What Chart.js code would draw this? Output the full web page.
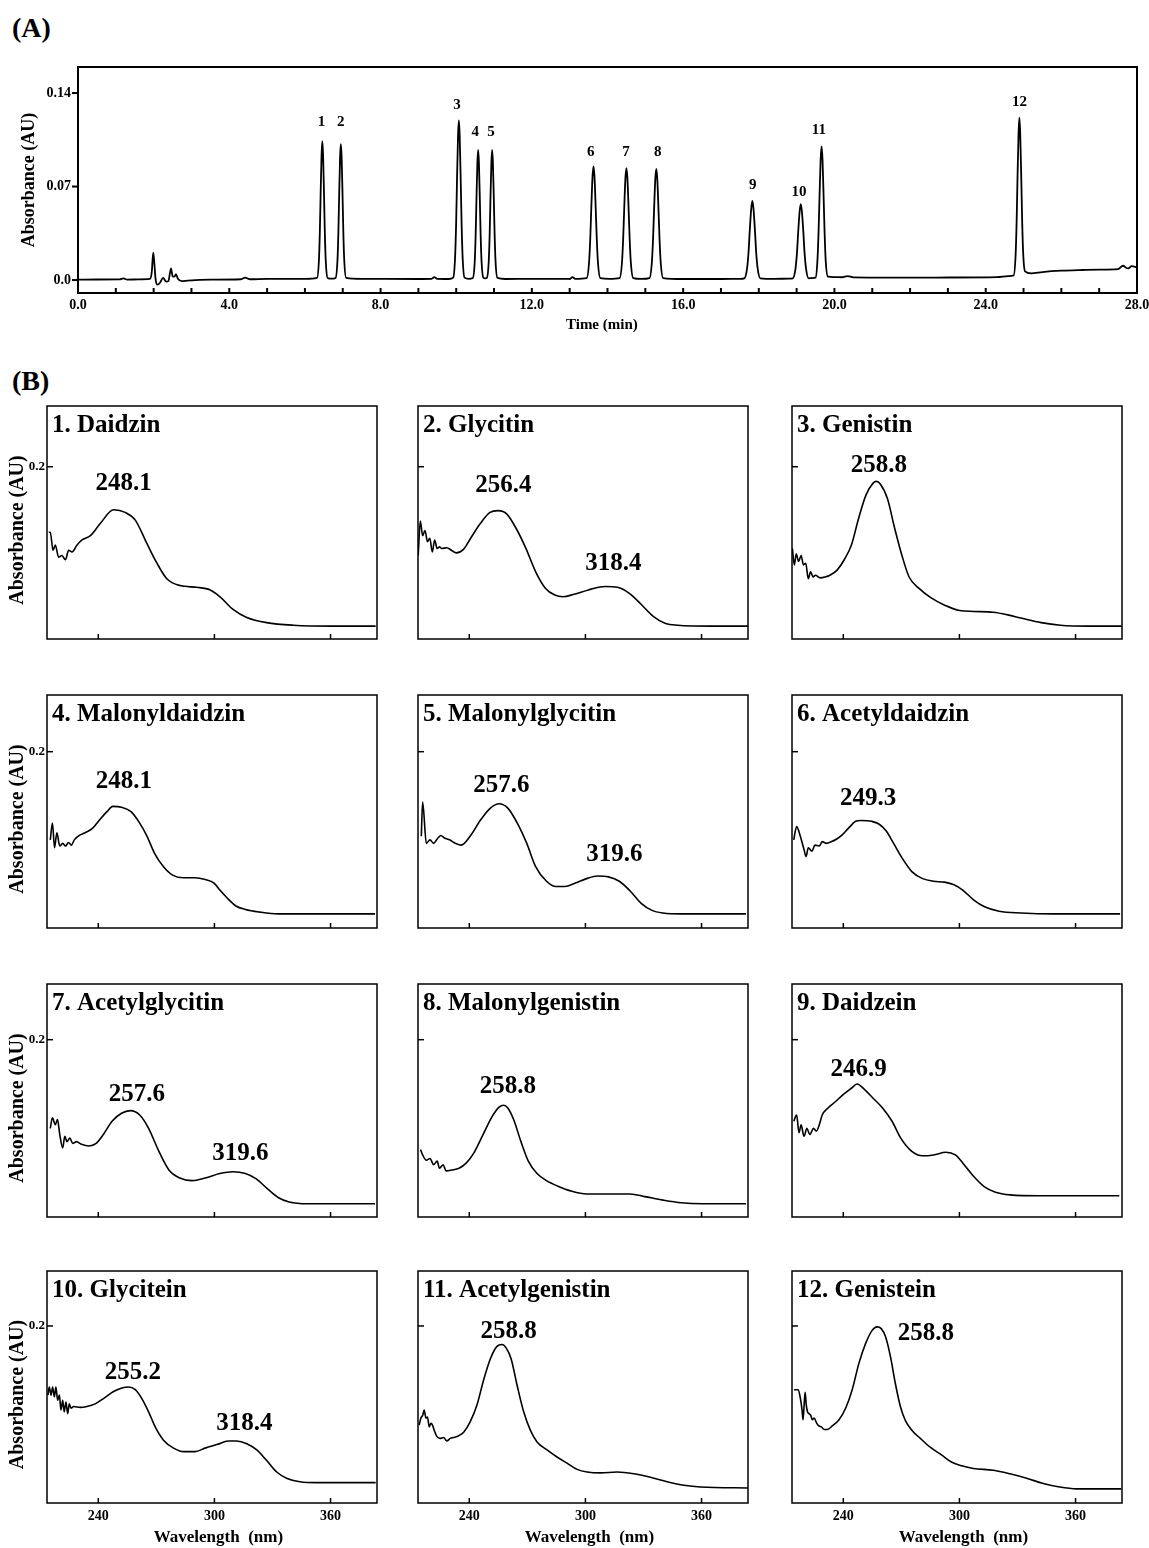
<!DOCTYPE html>
<html>
<head>
<meta charset="utf-8">
<script src="https://cdn.jsdelivr.net/npm/chart.js@4.4.1/dist/chart.umd.min.js"></script>
<style>
  body { margin: 0; background: #fff; }
  #page { position: relative; width: 1149px; height: 1548px; overflow: hidden; background: #fff; }
  canvas { position: absolute; }
  .tag { position: absolute; font: bold 28px "Liberation Serif", "Times New Roman", serif; line-height: 28px; color: #000; }
</style>
</head>
<body>
<div id="page">
  <div class="tag" style="left:12px;top:14px">(A)</div>
  <div class="tag" style="left:12px;top:367px">(B)</div>
  <canvas id="chrom" width="1149" height="300" style="left:0;top:50px"></canvas>
</div>
<script>

// ---------- (A) chromatogram: [time (min), absorbance (AU)] ----------
var chromTrace = [
  [0, 0.0003], [0.5, 0.0004], [1.1, 0.0005], [1.2, 0.0012], [1.3, 0.0003], [1.6, 0.0005], [1.9, 0.0008],
  [1.95, 0.006], [1.99, 0.0205], [2.02, 0.012], [2.05, 0.001], [2.1, -0.0035], [2.17, -0.002], [2.25, 0.0016],
  [2.33, -0.0012], [2.39, -0.0008], [2.43, 0.005], [2.46, 0.0088], [2.5, 0.003], [2.55, 0.0025], [2.59, 0.0045],
  [2.64, 0.001], [2.75, -0.0008], [2.9, -0.0004], [3.5, 0.0003], [4.3, 0.0006], [4.42, 0.0018], [4.55, 0.0006],
  [5.0, 0.0009], [6.0, 0.0009],
  [6.32, 0.0016], [6.37, 0.0148], [6.395, 0.037], [6.415, 0.064], [6.44, 0.094], [6.46, 0.104],
  [6.48, 0.094], [6.505, 0.064], [6.525, 0.037], [6.55, 0.0148], [6.6, 0.0016],
  [6.7, 0.001],
  [6.81, 0.0016], [6.86, 0.0146], [6.885, 0.0364], [6.905, 0.063], [6.93, 0.0924], [6.95, 0.1018],
  [6.97, 0.0924], [6.995, 0.063], [7.015, 0.0364], [7.04, 0.0146], [7.09, 0.0016],
  [7.5, 0.0009], [9.0, 0.0008], [9.35, 0.0009], [9.42, 0.0022], [9.5, 0.0009], [9.8, 0.0008],
  [9.92, 0.0018], [9.97, 0.0169], [9.998, 0.0425], [10.02, 0.0734], [10.048, 0.1079], [10.07, 0.1195],
  [10.092, 0.1079], [10.12, 0.0734], [10.142, 0.0425], [10.17, 0.0169], [10.22, 0.0018],
  [10.33, 0.0009],
  [10.44, 0.0016], [10.49, 0.0139], [10.515, 0.0348], [10.535, 0.06], [10.56, 0.0881], [10.58, 0.0975],
  [10.6, 0.0881], [10.625, 0.06], [10.645, 0.0348], [10.67, 0.0139], [10.72, 0.0016],
  [10.765, 0.0012],
  [10.81, 0.0016], [10.86, 0.0139], [10.885, 0.0348], [10.905, 0.06], [10.93, 0.0881], [10.95, 0.0975],
  [10.97, 0.0881], [10.995, 0.06], [11.015, 0.0348], [11.04, 0.0139], [11.09, 0.0016],
  [11.3, 0.0008], [12.0, 0.0009], [13.0, 0.0008], [13.07, 0.0022], [13.15, 0.0009],
  [13.45, 0.0015], [13.51, 0.0122], [13.543, 0.0304], [13.57, 0.0524], [13.603, 0.077], [13.63, 0.085],
  [13.657, 0.077], [13.69, 0.0524], [13.717, 0.0304], [13.75, 0.0122], [13.81, 0.0015],
  [14.05, 0.0009],
  [14.32, 0.0015], [14.38, 0.012], [14.413, 0.03], [14.44, 0.0517], [14.473, 0.0759], [14.5, 0.0838],
  [14.527, 0.0759], [14.56, 0.0517], [14.587, 0.03], [14.62, 0.012], [14.68, 0.0015],
  [14.9, 0.0009],
  [15.11, 0.0015], [15.17, 0.012], [15.203, 0.0298], [15.23, 0.0514], [15.263, 0.0754], [15.29, 0.0833],
  [15.317, 0.0754], [15.35, 0.0514], [15.377, 0.0298], [15.41, 0.012], [15.47, 0.0015],
  [16.0, 0.0008], [17.0, 0.0008], [17.5, 0.0009],
  [17.62, 0.0013], [17.69, 0.0087], [17.73, 0.0212], [17.76, 0.0364], [17.8, 0.0534], [17.83, 0.0592],
  [17.86, 0.0534], [17.9, 0.0364], [17.93, 0.0212], [17.97, 0.0087], [18.04, 0.0013],
  [18.4, 0.0009], [18.8, 0.001],
  [18.9, 0.0013], [18.97, 0.0084], [19.01, 0.0205], [19.04, 0.035], [19.08, 0.0513], [19.11, 0.0569],
  [19.14, 0.0513], [19.18, 0.035], [19.21, 0.0205], [19.25, 0.0084], [19.32, 0.0013],
  [19.4, 0.0015],
  [19.5, 0.0018], [19.55, 0.0142], [19.58, 0.0356], [19.605, 0.0614], [19.635, 0.0902], [19.66, 0.1],
  [19.685, 0.0902], [19.715, 0.0614], [19.74, 0.0356], [19.77, 0.0142], [19.83, 0.0025],
  [20.0, 0.0022], [20.2, 0.0021], [20.35, 0.003], [20.5, 0.002], [21.5, 0.0018], [23.0, 0.0019],
  [24.3, 0.0022], [24.6, 0.003],
  [24.74, 0.0035], [24.79, 0.0185], [24.818, 0.0445], [24.84, 0.0755], [24.868, 0.1095], [24.89, 0.1215],
  [24.912, 0.1098], [24.94, 0.0765], [24.962, 0.0465], [24.99, 0.0205], [25.04, 0.0065],
  [25.2, 0.005], [25.5, 0.006], [26.0, 0.007], [26.5, 0.0075], [27.0, 0.0078], [27.5, 0.0082],
  [27.63, 0.0107], [27.72, 0.009], [27.77, 0.0088], [27.86, 0.0104], [28, 0.0095]
]

var peakNumbers = ['1', '2', '3', '4', '5', '6', '7', '8', '9', '10', '11', '12']
var peakLabelTimes = [6.44, 6.95, 10.02, 10.5, 10.92, 13.56, 14.49, 15.33, 17.84, 19.06, 19.59, 24.89]
var peakLabelLevels = [0.1185, 0.1185, 0.131, 0.111, 0.111, 0.096, 0.096, 0.096, 0.0711, 0.0661, 0.1123, 0.1335]

var timeTicks = [0, 4, 8, 12, 16, 20, 24, 28]
var timeTickLabels = ['0.0', '4.0', '8.0', '12.0', '16.0', '20.0', '24.0', '28.0']
var absTicksA = [0, 0.07, 0.14]
var absTickLabelsA = ['0.0', '0.07', '0.14']

// ---------- (B) UV spectra: [wavelength (nm), absorbance (AU)] ----------
var compounds = ['1. Daidzin', '2. Glycitin', '3. Genistin', '4. Malonyldaidzin', '5. Malonylglycitin',
  '6. Acetyldaidzin', '7. Acetylglycitin', '8. Malonylgenistin', '9. Daidzein', '10. Glycitein',
  '11. Acetylgenistin', '12. Genistein']

var daidzin = [[214.4,0.124],[215.2,0.124],[216.6,0.103],[217.8,0.109],[219.5,0.095],[221.2,0.097],[223.0,0.092],
  [224.7,0.103],[226.4,0.101],[229.0,0.109],[231.6,0.115],[235.9,0.120],[241.0,0.134],[247.9,0.150],[253.9,0.147],
  [259.1,0.138],[265.1,0.111],[270.3,0.088],[275.4,0.070],[282.3,0.062],[290.9,0.060],[297.8,0.057],[302.9,0.049],
  [309.8,0.034],[316.7,0.025],[327.0,0.019],[340.8,0.016],[361.4,0.015],[383.3,0.015]]
var glycitin = [[213.6,0.097],[214.7,0.137],[215.9,0.120],[217.1,0.126],[218.4,0.113],[219.6,0.117],[220.9,0.101],
  [222.1,0.115],[223.4,0.105],[224.6,0.107],[225.8,0.105],[228.3,0.106],[230.8,0.103],[233.3,0.100],[237.0,0.104],
  [240.7,0.117],[245.7,0.134],[250.7,0.147],[254.9,0.149],[259.4,0.145],[264.3,0.128],[269.3,0.105],[274.3,0.078],
  [279.3,0.059],[284.2,0.051],[288.4,0.049],[294.2,0.052],[301.6,0.057],[310.3,0.061],[316.5,0.060],[322.7,0.053],
  [328.9,0.040],[335.2,0.026],[341.4,0.018],[347.6,0.016],[365.0,0.015],[384.0,0.015]]
var genistin = [[213.7,0.105],[214.7,0.086],[215.7,0.099],[216.9,0.090],[218.2,0.097],[219.4,0.086],[220.6,0.088],
  [221.9,0.070],[223.1,0.078],[224.4,0.072],[225.6,0.074],[228.1,0.071],[230.6,0.072],[233.1,0.074],[236.8,0.080],
  [240.5,0.092],[244.2,0.109],[247.9,0.140],[251.7,0.167],[255.4,0.181],[257.1,0.183],[259.1,0.180],[262.8,0.163],
  [266.6,0.128],[270.3,0.097],[274.0,0.072],[279.0,0.059],[285.2,0.048],[292.6,0.039],[300.0,0.033],[307.5,0.032],
  [317.4,0.031],[324.9,0.028],[332.3,0.024],[342.2,0.019],[352.2,0.016],[367.0,0.015],[383.9,0.015]]
var malonyldaidzin = [[215.2,0.100],[216.3,0.119],[217.4,0.091],[218.6,0.108],[220.1,0.093],[221.6,0.096],
  [223.1,0.093],[224.6,0.097],[226.1,0.094],[227.6,0.100],[229.5,0.104],[233.2,0.108],[237.0,0.113],[240.8,0.123],
  [244.5,0.132],[247.5,0.138],[252.0,0.137],[256.9,0.132],[261.4,0.119],[265.2,0.104],[269.0,0.085],[273.5,0.070],
  [278.4,0.060],[284.0,0.057],[289.7,0.057],[295.3,0.055],[299.8,0.051],[302.8,0.043],[306.6,0.034],[311.1,0.025],
  [316.0,0.021],[323.5,0.018],[332.9,0.016],[348.0,0.016],[383.0,0.016]]
var malonylglycitin = [[215.2,0.104],[215.9,0.143],[217.8,0.096],[219.7,0.100],[221.6,0.096],[223.4,0.101],
  [225.3,0.105],[227.2,0.102],[229.8,0.100],[232.9,0.096],[235.9,0.094],[240.4,0.104],[246.0,0.123],[250.9,0.136],
  [255.4,0.141],[259.9,0.136],[264.8,0.119],[269.7,0.096],[274.2,0.070],[279.9,0.053],[284.8,0.047],[289.3,0.047],
  [294.9,0.051],[300.6,0.056],[306.2,0.059],[311.9,0.058],[317.5,0.053],[323.1,0.042],[328.8,0.028],[334.4,0.020],
  [340.1,0.017],[349.5,0.016],[383.0,0.016]]
var acetyldaidzin = [[214.4,0.100],[215.9,0.115],[217.8,0.104],[219.7,0.089],[220.8,0.081],[221.9,0.091],
  [223.8,0.087],[225.3,0.094],[227.6,0.093],[229.1,0.098],[231.3,0.096],[234.0,0.098],[236.6,0.101],[239.6,0.106],
  [242.6,0.113],[246.4,0.121],[249.0,0.122],[254.7,0.121],[258.4,0.118],[262.2,0.110],[266.0,0.096],[270.5,0.079],
  [275.4,0.064],[281.0,0.056],[286.7,0.053],[292.3,0.052],[297.2,0.049],[301.7,0.043],[307.3,0.032],[313.0,0.024],
  [320.5,0.019],[331.8,0.017],[348.7,0.016],[383.0,0.016]]
var acetylglycitin = [[215.2,0.100],[216.3,0.112],[217.8,0.104],[218.9,0.110],[220.1,0.093],[221.6,0.078],
  [222.7,0.091],[223.8,0.085],[225.3,0.089],[226.8,0.083],[228.7,0.085],[231.3,0.082],[235.1,0.080],[238.9,0.083],
  [242.6,0.093],[247.1,0.108],[252.0,0.117],[256.6,0.120],[261.4,0.115],[266.0,0.100],[270.9,0.076],[276.5,0.053],
  [282.1,0.044],[288.5,0.041],[295.3,0.044],[302.8,0.049],[309.6,0.051],[316.0,0.049],[321.6,0.043],[327.3,0.032],
  [332.9,0.022],[338.6,0.017],[348.0,0.015],[383.0,0.015]]
var malonylgenistin = [[214.8,0.076],[215.9,0.070],[217.8,0.064],[219.7,0.066],[221.6,0.059],[223.4,0.063],
  [224.6,0.055],[226.5,0.059],[228.0,0.052],[231.0,0.053],[234.7,0.055],[238.5,0.061],[242.3,0.072],[247.1,0.093],
  [251.7,0.113],[255.4,0.124],[257.7,0.126],[259.9,0.123],[262.9,0.110],[266.7,0.085],[270.5,0.063],[275.0,0.049],
  [279.9,0.041],[285.5,0.035],[293.0,0.029],[300.6,0.026],[311.9,0.026],[323.1,0.026],[330.7,0.023],[340.1,0.019],
  [349.5,0.016],[360.8,0.015],[383.0,0.015]]
var daidzein = [[214.4,0.108],[215.9,0.115],[217.1,0.095],[218.2,0.104],[219.7,0.091],[221.2,0.100],[222.7,0.093],
  [224.6,0.100],[226.1,0.097],[227.6,0.104],[229.1,0.115],[232.1,0.123],[235.9,0.130],[240.4,0.139],[244.1,0.145],
  [247.1,0.150],[250.9,0.144],[255.4,0.134],[260.3,0.123],[265.2,0.108],[269.7,0.089],[275.4,0.074],[281.0,0.069],
  [286.7,0.070],[293.0,0.073],[297.9,0.070],[301.7,0.061],[307.3,0.046],[313.0,0.034],[318.6,0.028],[326.2,0.025],
  [341.2,0.024],[382.6,0.024]]
var glycitein = [[214.0,0.122],[214.7,0.131],[215.6,0.122],[216.4,0.131],[217.3,0.120],[218.1,0.131],[219.0,0.116],
  [219.9,0.122],[220.7,0.105],[221.6,0.116],[222.4,0.103],[223.3,0.114],[224.2,0.101],[225.0,0.112],[225.9,0.107],
  [227.3,0.109],[230.7,0.108],[234.1,0.109],[238.4,0.112],[242.7,0.118],[247.9,0.126],[252.2,0.130],[255.6,0.131],
  [259.1,0.128],[262.5,0.118],[266.0,0.103],[269.4,0.086],[273.7,0.071],[278.9,0.062],[284.0,0.058],[290.0,0.058],
  [295.2,0.062],[301.2,0.066],[307.2,0.070],[311.5,0.070],[316.7,0.067],[321.9,0.060],[327.0,0.048],[332.2,0.035],
  [337.3,0.028],[344.2,0.024],[352.8,0.023],[383.3,0.023]]
var acetylgenistin = [[214.1,0.088],[215.0,0.096],[215.9,0.099],[216.7,0.105],[217.6,0.096],[218.4,0.097],
  [219.3,0.086],[220.2,0.090],[221.0,0.088],[221.9,0.082],[223.3,0.075],[225.0,0.073],[226.7,0.074],[228.4,0.070],
  [230.2,0.073],[231.9,0.074],[234.5,0.076],[237.1,0.080],[240.5,0.092],[244.0,0.111],[247.4,0.139],[250.9,0.163],
  [254.3,0.177],[256.9,0.179],[259.1,0.175],[261.6,0.163],[264.7,0.133],[268.1,0.103],[271.6,0.082],[275.0,0.069],
  [280.2,0.060],[285.3,0.052],[290.5,0.045],[295.7,0.038],[300.9,0.035],[307.8,0.034],[316.4,0.035],[325.0,0.033],
  [333.6,0.029],[342.2,0.024],[350.9,0.020],[359.5,0.018],[384.0,0.017]]
var genistein = [[214.6,0.128],[215.6,0.128],[216.7,0.128],[217.7,0.120],[218.7,0.105],[219.2,0.094],[219.8,0.112],
  [220.3,0.125],[220.8,0.112],[221.5,0.103],[222.3,0.101],[223.2,0.099],[224.0,0.094],[224.9,0.096],[226.3,0.090],
  [227.5,0.087],[228.7,0.086],[230.1,0.083],[231.8,0.083],[234.3,0.087],[237.8,0.094],[241.2,0.107],[244.6,0.128],
  [248.1,0.158],[251.5,0.180],[254.9,0.195],[257.5,0.199],[259.6,0.197],[261.8,0.188],[264.4,0.165],[266.9,0.135],
  [269.5,0.109],[272.1,0.093],[275.5,0.082],[279.8,0.073],[284.9,0.063],[290.9,0.054],[296.1,0.046],[301.2,0.042],
  [307.2,0.039],[317.5,0.037],[326.1,0.033],[334.7,0.028],[343.3,0.022],[351.8,0.018],[360.4,0.016],[383.6,0.016]]

var spectra = [daidzin, glycitin, genistin, malonyldaidzin, malonylglycitin, acetyldaidzin,
  acetylglycitin, malonylgenistin, daidzein, glycitein, acetylgenistin, genistein]

// lambda max labels and where they sit (nm, AU)
var maximaText = [['248.1'], ['256.4', '318.4'], ['258.8'], ['248.1'], ['257.6', '319.6'], ['249.3'],
  ['257.6', '319.6'], ['258.8'], ['246.9'], ['255.2', '318.4'], ['258.8'], ['258.8']]
var maximaAt = [[[253.1, 0.180]], [[257.6, 0.178], [314.5, 0.088]], [[258.4, 0.201]], [[253.2, 0.166]],
  [[256.6, 0.162], [314.9, 0.083]], [[252.8, 0.147]], [[259.9, 0.138], [313.4, 0.072]], [[259.9, 0.147]],
  [[247.9, 0.166]], [[257.9, 0.147], [315.5, 0.090]], [[260.3, 0.194]], [[282.7, 0.192]]]

var wlTicks = [240, 300, 360]
var wlTickLabels = ['240', '300', '360']
var absTicksB = [0.2]
var absTickLabelsB = ['0.2']


Chart.defaults.font.family = '"Liberation Serif", "Times New Roman", serif'
Chart.defaults.font.weight = 'bold'
Chart.defaults.color = '#000'

var serif = '"Liberation Serif", "Times New Roman", serif'
var nb = '\u00a0'

// box round the plot, tick marks and the texts inside the plot
function makeFrame(o) {
  return {
    id: 'frame',
    afterDraw: function (chart) {
      var ctx = chart.ctx
      var a = chart.chartArea
      var xs = chart.scales.x
      var ys = chart.scales.y
      ctx.save()
      ctx.strokeStyle = '#000'
      ctx.lineWidth = o.lw
      ctx.strokeRect(a.left, a.top, a.right - a.left, a.bottom - a.top)
      xs.ticks.forEach(function (t) {
        var px = xs.getPixelForValue(t.value)
        ctx.beginPath()
        ctx.moveTo(px, a.bottom)
        ctx.lineTo(px, a.bottom - o.xIn)
        ctx.stroke()
      })
      ys.ticks.forEach(function (t) {
        var py = ys.getPixelForValue(t.value)
        ctx.beginPath()
        ctx.moveTo(a.left - o.yOut, py)
        ctx.lineTo(a.left + o.yIn, py)
        ctx.stroke()
      })
      ctx.fillStyle = '#000'
      ctx.font = o.font
      ctx.textAlign = 'center'
      ctx.textBaseline = 'middle'
      o.notes.forEach(function (n) {
        ctx.fillText(n[0], xs.getPixelForValue(n[1]), ys.getPixelForValue(n[2]))
      })
      if (o.title) {
        ctx.textAlign = 'left'
        ctx.fillText(o.title, a.left + 5, a.top + 20)
      }
      ctx.restore()
    }
  }
}

// ---------- chart A ----------
new Chart(document.getElementById('chrom'), {
  type: 'line',
  data: {
    datasets: [{
      data: chromTrace,
      borderColor: '#000',
      borderWidth: 1.8,
      pointRadius: 0,
      cubicInterpolationMode: 'monotone'
    }]
  },
  options: {
    responsive: false,
    animation: false,
    events: [],
    layout: { padding: { left: 0, top: 17, right: 12, bottom: 0 } },
    plugins: { legend: { display: false }, tooltip: { enabled: false } },
    scales: {
      x: {
        type: 'linear', min: 0, max: 28,
        grid: { display: false, drawTicks: false },
        border: { display: false },
        afterBuildTicks: function (s) {
          var t = []
          for (var m = 0; m <= 28; m++) t.push({ value: m })
          s.ticks = t
        },
        afterFit: function (s) { s.height = 57; s.paddingLeft = 0; s.paddingRight = 0 },
        ticks: {
          autoSkip: false, maxRotation: 0, padding: 4,
          font: { size: 14, weight: 'bold' },
          callback: function (v) {
            var k = timeTicks.indexOf(v)
            return k < 0 ? '' : timeTickLabels[k]
          }
        },
        title: { display: true, text: 'Time (min)' + nb + nb + nb, font: { size: 15, weight: 'bold' }, padding: { top: 0, bottom: 16 } }
      },
      y: {
        min: -0.0097, max: 0.1595,
        grid: { display: false, drawTicks: false },
        border: { display: false },
        afterBuildTicks: function (s) { s.ticks = absTicksA.map(function (v) { return { value: v } }) },
        afterFit: function (s) { s.width = 78; s.paddingTop = 0; s.paddingBottom = 0 },
        ticks: {
          padding: 7,
          font: { size: 14, weight: 'bold' },
          callback: function (v, i) { return absTickLabelsA[i] }
        },
        title: { display: true, text: 'Absorbance (AU)', font: { size: 18, weight: 'bold' }, padding: { top: 19, bottom: 0 } }
      }
    }
  },
  plugins: [makeFrame({
    lw: 2, xIn: 5, yIn: 0, yOut: 6,
    font: 'bold 15px ' + serif,
    notes: peakNumbers.map(function (s, i) { return [s, peakLabelTimes[i], peakLabelLevels[i]] })
  })]
})

// ---------- charts B ----------
var rowTop = [406, 695, 984, 1271]
var rowHeight = [233, 233, 233, 232]
var colLeft = [47, 418, 792]
var panelWidth = 330
var absMaxByRow = [0.2705, 0.2643, 0.2628, 0.2621]

var page = document.getElementById('page')

spectra.forEach(function (trace, i) {
  var r = Math.floor(i / 3)
  var c = i % 3
  var cv = document.createElement('canvas')
  cv.width = 47 + panelWidth + 10
  cv.height = 12 + rowHeight[r] + 46
  cv.style.left = (colLeft[c] - 47) + 'px'
  cv.style.top = (rowTop[r] - 12) + 'px'
  page.appendChild(cv)

  var notes = maximaText[i].map(function (s, j) { return [s, maximaAt[i][j][0], maximaAt[i][j][1]] })

  new Chart(cv, {
    type: 'line',
    data: {
      datasets: [{
        data: trace,
        borderColor: '#000',
        borderWidth: 1.6,
        pointRadius: 0,
        cubicInterpolationMode: 'monotone'
      }]
    },
    options: {
      responsive: false,
      animation: false,
      events: [],
      layout: { padding: { left: 0, top: 12, right: 10, bottom: 0 } },
      plugins: { legend: { display: false }, tooltip: { enabled: false } },
      scales: {
        x: {
          type: 'linear', min: 213.5, max: 384,
          grid: { display: false, drawTicks: false },
          border: { display: false },
          afterBuildTicks: function (s) { s.ticks = wlTicks.map(function (v) { return { value: v } }) },
          afterFit: function (s) { s.height = 46; s.paddingLeft = 0; s.paddingRight = 0 },
          ticks: {
            display: r === 3, autoSkip: false, maxRotation: 0, padding: 5,
            font: { size: 14, weight: 'bold' },
            callback: function (v, k) { return wlTickLabels[k] }
          },
          title: { display: r === 3, text: nb + nb + nb + 'Wavelength' + nb + ' (nm)', font: { size: 17, weight: 'bold' }, padding: { top: 0, bottom: 1 } }
        },
        y: {
          min: 0, max: absMaxByRow[r],
          grid: { display: false, drawTicks: false },
          border: { display: false },
          afterBuildTicks: function (s) { s.ticks = absTicksB.map(function (v) { return { value: v } }) },
          afterFit: function (s) { s.width = 47; s.paddingTop = 0; s.paddingBottom = 0 },
          ticks: {
            display: c === 0, padding: 2,
            font: { size: 13, weight: 'bold' },
            callback: function (v, k) { return absTickLabelsB[k] }
          },
          title: { display: c === 0, text: 'Absorbance (AU)' + nb + nb + nb, font: { size: 20, weight: 'bold' }, padding: { top: 6, bottom: 0 } }
        }
      }
    },
    plugins: [makeFrame({
      lw: 1.5, xIn: 5, yIn: 6, yOut: 0,
      font: 'bold 25px ' + serif,
      notes: notes,
      title: compounds[i]
    })]
  })
})
</script>
</body>
</html>
